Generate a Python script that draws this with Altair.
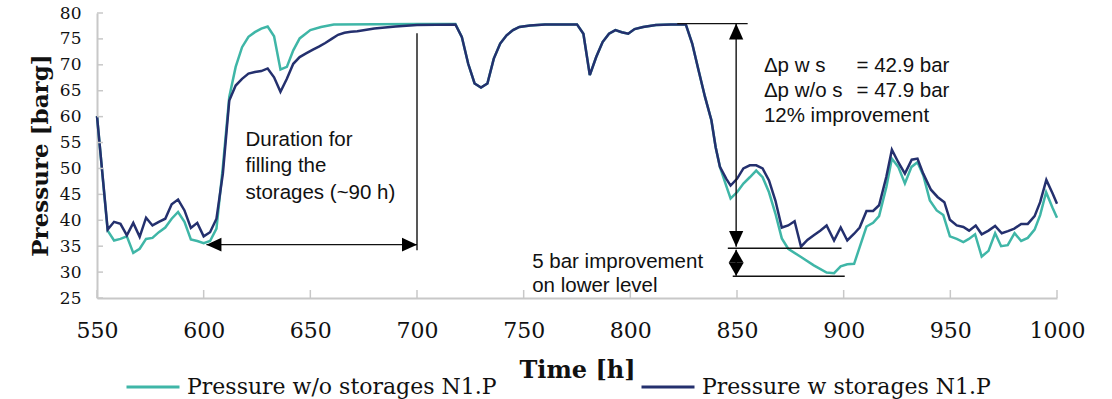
import altair as alt
import pandas as pd

SERIES = ["Pressure w/o storages N1.P", "Pressure w storages N1.P"]
COLORS = ["#3fb6a7", "#24306e"]

# Pressure without storages (teal)
t_wo = [550, 555, 558, 561, 564, 567, 570, 573, 576, 579, 582, 585, 588, 591, 594, 597, 600, 603, 606,
        609, 612, 615, 618, 621, 624, 627, 630, 633, 636, 639, 642, 645, 650, 655, 661, 700, 718,
        721, 724, 727, 730, 733, 736, 739, 742, 745, 748, 753, 760, 775, 778, 781, 784, 787, 790,
        793, 796, 799, 802, 806, 812, 819, 826, 829, 832, 835, 838, 840, 842,
        845, 847, 850, 853, 856, 859, 862, 865, 868, 871, 874, 880, 886, 892, 895.5, 898.6,
        901.7, 904.9, 907.5, 910.7, 913.8, 916.6, 920, 922.6, 925.6, 928.7, 931.8, 934.6, 937.3,
        940.4, 943.6, 946.7, 949.8, 953, 956.1, 958.7, 961.6, 964.7, 967.9, 971, 973.8, 976.9,
        980.1, 983.2, 986.3, 989.5, 992.1, 994.9, 997.9, 1000]
p_wo = [60.1, 38.0, 36.1, 36.4, 36.9, 33.7, 34.5, 36.4, 36.6, 37.7, 38.6, 40.3, 41.6, 39.7, 36.3, 36.0, 35.6, 36.0, 38.4,
        50.3, 63.8, 69.6, 73.4, 75.4, 76.3, 77.0, 77.4, 75.5, 69.1, 69.6, 72.8, 75.1, 76.7, 77.3, 77.8, 77.9, 77.9,
        75.4, 70.2, 66.4, 65.6, 66.4, 71.2, 74.1, 75.7, 76.7, 77.3, 77.6, 77.8, 77.8, 76.0, 68.0, 71.5, 74.4, 76.0,
        76.7, 76.3, 76.0, 76.9, 77.3, 77.7, 77.8, 77.8, 74.1, 68.9, 63.8, 59.3, 54.1, 50.3,
        46.6, 44.2, 45.4, 47.1, 48.3, 49.6, 48.3, 45.4, 41.3, 36.5, 34.5, 32.9, 31.3, 29.9, 29.8, 31.1,
        31.5, 31.6, 34.8, 38.8, 39.5, 40.8, 46.4, 51.9, 50.3, 47.1, 50.3, 51.2, 48.7,
        43.8, 41.9, 41.0, 36.9, 36.4, 35.8, 36.4, 37.3, 33.0, 34.1, 37.5, 35.0, 35.2,
        37.5, 36.0, 36.6, 38.2, 41.0, 45.4, 42.4, 40.5]

# Pressure with storages (navy)
t_w = [550, 555, 558, 561, 564, 567, 570, 573, 576, 579, 582, 585, 588, 591, 594, 597, 600, 603, 606,
       609, 612, 615, 618, 621, 624, 627, 630, 633, 636, 639, 642, 645, 648, 651, 654, 657, 660, 663,
       666, 669, 672, 680, 690, 700, 718,
       721, 724, 727, 730, 733, 736, 739, 742, 745, 748, 753, 760, 775, 778, 781, 784, 787, 790,
       793, 796, 799, 802, 806, 812, 819, 826, 829, 832, 835, 838, 840, 842,
       845, 847, 850, 853, 856, 859, 862, 865, 868, 871, 874, 877, 880, 883, 886, 889, 892, 895.5,
       898.6, 901.7, 904.9, 907.5, 910.7, 913.8, 916.6, 920, 922.6, 925.6, 928.7, 931.9, 934.6,
       937.3, 940.9, 944, 947.2, 949.8, 953, 956.1, 958.8, 961.9, 964.7, 967.9, 971, 974.1, 977,
       980, 983.2, 986.3, 989.5, 992.1, 995, 998, 1000]
p_w = [60.1, 38.2, 39.7, 39.3, 37.1, 39.5, 36.8, 40.5, 39.0, 39.7, 40.3, 43.1, 44.0, 41.9, 38.5, 39.5, 36.9, 37.7, 40.3,
       49.0, 63.1, 66.0, 67.3, 68.3, 68.6, 68.8, 69.3, 67.6, 64.8, 67.3, 70.2, 71.5, 72.2, 72.9, 73.5, 74.2, 75.0, 75.8,
       76.2, 76.4, 76.5, 77.0, 77.4, 77.7, 77.8,
       75.4, 70.2, 66.4, 65.6, 66.4, 71.2, 74.1, 75.7, 76.7, 77.3, 77.6, 77.8, 77.8, 76.0, 68.0, 71.5, 74.4, 76.0,
       76.7, 76.3, 76.0, 76.9, 77.3, 77.7, 77.8, 77.8, 74.1, 68.9, 63.8, 59.3, 54.1, 50.3,
       48.0, 46.7, 48.0, 50.0, 50.6, 50.6, 50.0, 47.7, 43.8, 38.6, 39.0, 39.8, 34.9, 36.2, 37.1, 38.0, 39.0, 36.1,
       38.6, 36.1, 37.4, 38.6, 41.8, 41.8, 42.9, 48.4, 53.6, 51.2, 49.0, 51.7, 51.9,
       49.0, 45.9, 44.5, 43.5, 40.1, 39.0, 38.7, 38.0, 39.0, 37.3, 38.0, 38.9, 37.5, 37.9,
       38.4, 39.3, 39.3, 40.8, 43.5, 47.8, 45.1, 43.2]

x_ticks = [550, 600, 650, 700, 750, 800, 850, 900, 950, 1000]
y_ticks = [25, 30, 35, 40, 45, 50, 55, 60, 65, 70, 75, 80]

# annotation lines (data units)
ann_t1 = [700, 601.3, 822, 849.6, 845.7, 848, 849.6]
ann_p1 = [34.2, 35.3, 77.95, 34.9, 34.6, 29.2, 29.3]
ann_t2 = [700, 700, 855, 849.6, 899, 900.5, 849.6]
ann_p2 = [76.1, 35.3, 77.95, 77.95, 34.6, 29.2, 34.3]

# annotation texts
txt_t = [619.6, 619.6, 619.6, 862.6, 862.6, 862.6, 906, 906, 754, 754]
txt_p = [55.4, 50.5, 45.3, 69.8, 64.9, 60.1, 69.8, 64.9, 31.9, 27.4]
txt_s = ["Duration for", "filling the", "storages (~90 h)", "\u0394p w s", "\u0394p w/o s",
         "12% improvement", "= 42.9 bar", "= 47.9 bar", "5 bar improvement", "on lower level"]

SERIF = "DejaVu Serif"
SANS = "Liberation Sans"
AX = "#c8c8c8"

xs = alt.Scale(domain=[550, 1000], nice=False, zero=False)
ys = alt.Scale(domain=[25, 80], nice=False, zero=False)
cs = alt.Scale(domain=SERIES, range=COLORS)

xaxis = alt.Axis(values=x_ticks, format="d", title="Time [h]", titleFont=SERIF, titleFontWeight="bold",
                 titleFontSize=24, titleColor="#111", titleY=72, titleBaseline="middle",
                 labelFont=SERIF, labelFontSize=22, labelColor="#111", labelPadding=22,
                 labelOverlap=False, ticks=False, grid=False, domainColor=AX, domainWidth=2,
                 labelFlush=False)
yaxis = alt.Axis(values=y_ticks, format="d", title="Pressure [barg]", titleFont=SERIF,
                 titleFontWeight="bold", titleFontSize=23, titleColor="#111", titleX=-57, titleY=142,
                 titleAngle=270, titleAlign="center", titleBaseline="middle",
                 labelFont=SERIF, labelFontSize=17, labelColor="#111", labelPadding=16,
                 labelOverlap=False, ticks=False, grid=False, domainColor=AX, domainWidth=2,
                 labelFlush=False)
legend = alt.Legend(orient="none", legendX=28, legendY=346, direction="horizontal", columns=2,
                    title=None, symbolType="stroke", symbolSize=2809, symbolStrokeWidth=3,
                    labelFont=SERIF, labelFontSize=22, labelColor="#111", labelLimit=500,
                    labelOffset=6, columnPadding=138)

X = alt.X("t:Q", scale=xs, axis=xaxis)
Y = alt.Y("p:Q", scale=ys, axis=yaxis)

df_wo = pd.DataFrame({"t": t_wo, "p": p_wo, "s": SERIES[0]})
df_w = pd.DataFrame({"t": t_w, "p": p_w, "s": SERIES[1]})

line_wo = alt.Chart(df_wo).mark_line(strokeWidth=2.5).encode(
    x=X, y=Y, color=alt.Color("s:N", scale=cs, legend=legend))
line_w = alt.Chart(df_w).mark_line(strokeWidth=2.5).encode(
    x=X, y=Y, color=alt.Color("s:N", scale=cs, legend=legend))

xt = alt.Chart(pd.DataFrame({"t": x_ticks})).mark_rule(color=AX, strokeWidth=1.5).encode(
    x=X, y=alt.value(285), y2=alt.value(277))
yt = alt.Chart(pd.DataFrame({"p": y_ticks})).mark_rule(color=AX, strokeWidth=1.5).encode(
    y=Y, x=alt.value(0), x2=alt.value(6))

rules = alt.Chart(pd.DataFrame({"t": ann_t1, "p": ann_p1, "t2": ann_t2, "p2": ann_p2})).mark_rule(
    color="#111", strokeWidth=1.4).encode(x=X, y=Y, x2="t2:Q", y2="p2:Q")


def heads(ts, ps, path, size):
    return alt.Chart(pd.DataFrame({"t": ts, "p": ps})).mark_point(
        shape=path, size=size, filled=True, color="#000", opacity=1, strokeWidth=0).encode(x=X, y=Y)


h_left = heads([601.3], [35.3], "M0,0L2,-0.93L2,0.93Z", 225)
h_right = heads([700], [35.3], "M0,0L-2,-0.93L-2,0.93Z", 225)
h_up = heads([849.6], [77.95], "M0,0L0.9,2L-0.9,2Z", 250)
h_down = heads([849.6], [34.9], "M0,0L0.9,-2L-0.9,-2Z", 250)
h_up2 = heads([849.6], [34.3], "M0,0L1.15,2L-1.15,2Z", 169)
h_down2 = heads([849.6], [29.3], "M0,0L1.15,-2L-1.15,-2Z", 169)

texts = alt.Chart(pd.DataFrame({"t": txt_t, "p": txt_p, "label": txt_s})).mark_text(
    align="left", baseline="middle", font=SANS, fontSize=20.5, color="#111").encode(
    x=X, y=Y, text="label:N")

chart = alt.layer(
    line_wo, line_w, xt, yt, rules, h_left, h_right, h_up, h_down, h_up2, h_down2, texts
).properties(
    width=960, height=285,
    autosize=alt.AutoSizeParams(type="none"),
    padding={"left": 97, "top": 13, "right": 55, "bottom": 101},
    background="white",
).configure_view(stroke=None).configure_axis(labelOverlap=False)

chart.save("out.html", embed_options={"renderer": "svg", "actions": False})
